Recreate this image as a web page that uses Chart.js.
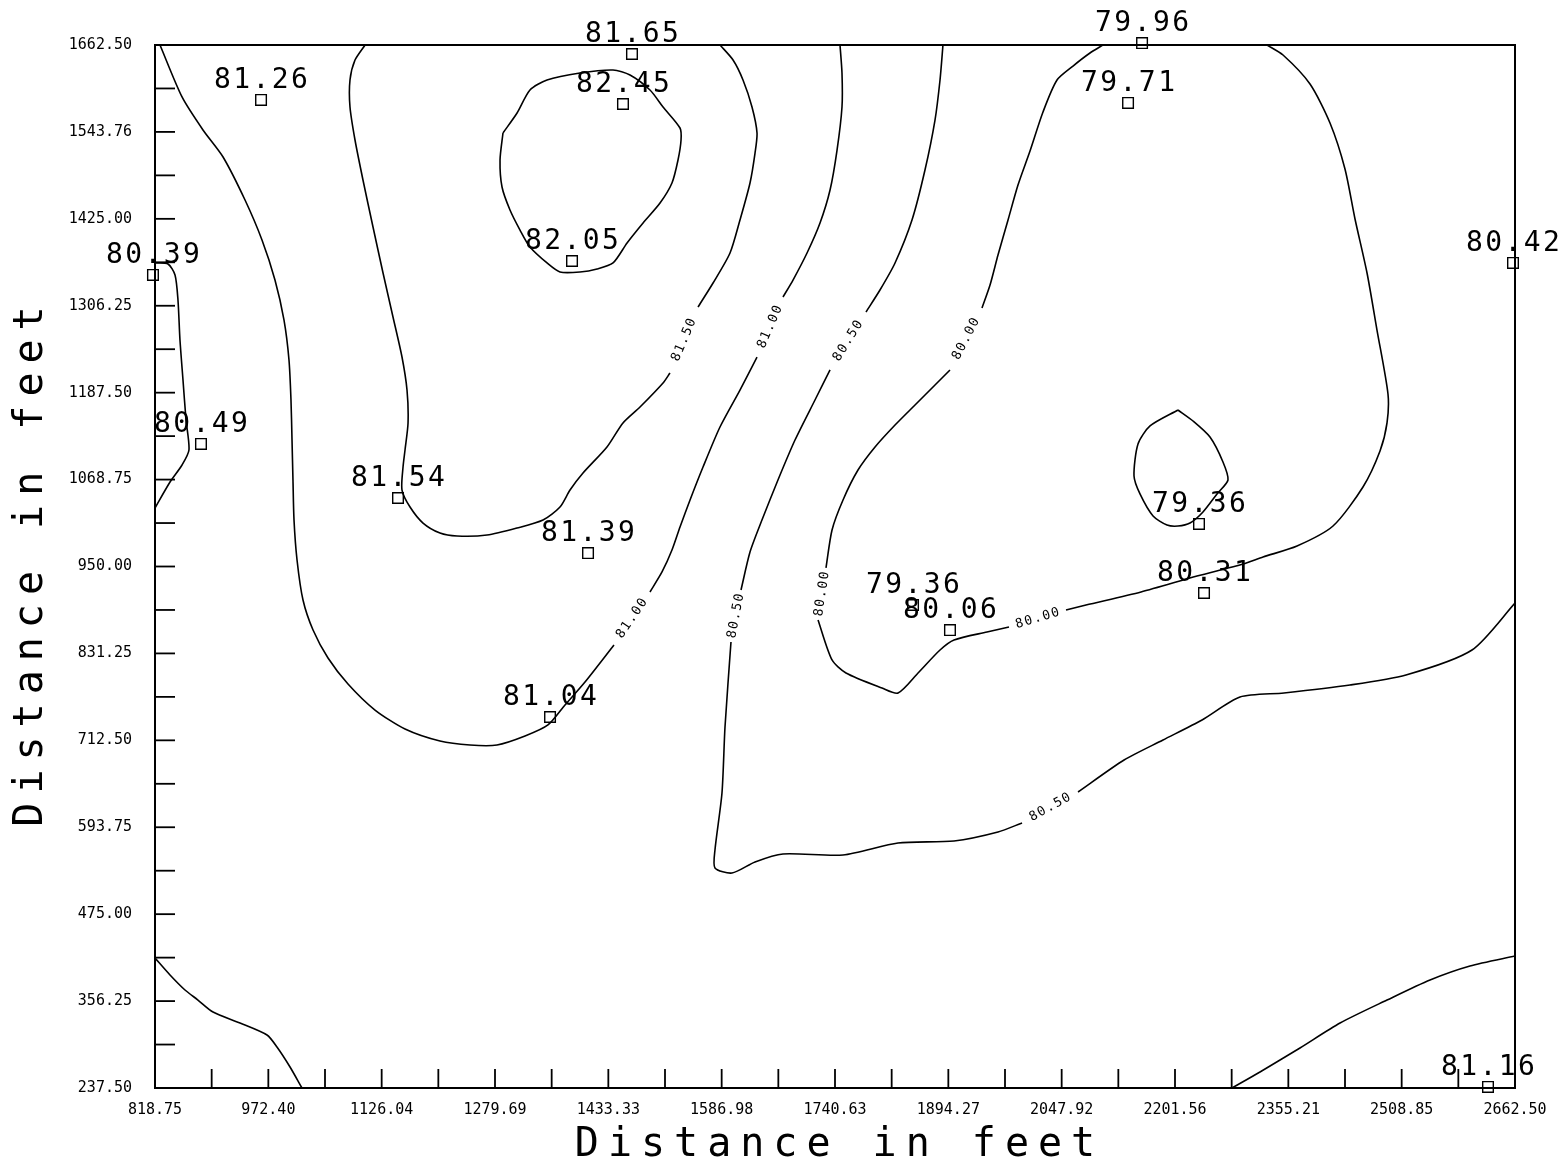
<!DOCTYPE html>
<html><head><meta charset="utf-8">
<script src="https://cdn.jsdelivr.net/npm/chart.js@4/dist/chart.umd.min.js"></script>
<style>html,body{margin:0;padding:0;background:#fff;}canvas{display:block;}</style>
</head><body>
<canvas id="c" width="1560" height="1173"></canvas>
<script>
// ---------- axis data ----------
const xMin = 818.75, xMax = 2662.50, yMin = 237.50, yMax = 1662.50;
const xTickLabels = ['818.75','972.40','1126.04','1279.69','1433.33','1586.98','1740.63','1894.27','2047.92','2201.56','2355.21','2508.85','2662.50'];
const yTickLabels = ['237.50','356.25','475.00','593.75','712.50','831.25','950.00','1068.75','1187.50','1306.25','1425.00','1543.76','1662.50'];
const xTitle = 'Distance in feet';
const yTitle = 'Distance in feet';

// ---------- stations ----------
const stationX = [962.5, 1465.4, 1453.2, 1384.1, 816.0, 881.1, 1148.2, 1405.8, 1354.3, 1846.4, 1896.5, 2156.9, 2137.9, 2659.8, 2234.1, 2240.9, 2625.9];
const stationY = [1587.4, 1650.2, 1581.9, 1367.4, 1348.3, 1117.4, 1043.6, 968.4, 744.4, 897.4, 863.2, 1665.2, 1583.3, 1364.7, 1008.1, 913.8, 238.9];
const stationValue = [81.26, 81.65, 82.45, 82.05, 80.39, 80.49, 81.54, 81.39, 81.04, 79.36, 80.06, 79.96, 79.71, 80.42, 79.36, 80.31, 81.16];

// ---------- contour lines (segments split where the level label sits) ----------
const c810 = [
 [[825.5,1662.5],[855.4,1591.5],[883.8,1546.4],[911.0,1509.5],[940.8,1450.7],[963.8,1396.1],[981.4,1341.4],[993.6,1286.8],[1000.4,1232.1],[1003.1,1177.5],[1004.5,1122.8],[1005.8,1068.2],[1007.2,1013.5],[1011.3,958.9],[1019.4,904.2],[1033.0,863.2],[1053.3,825.0],[1080.4,789.5],[1117.0,753.9],[1157.7,728.0],[1205.1,711.6],[1245.8,706.1],[1282.4,706.1],[1320.4,718.4],[1351.5,733.5],[1374.6,760.8],[1401.7,792.2],[1441.0,842.8]],
 [[1489.8,915.2],[1506.1,942.5],[1519.6,972.5],[1530.5,1004.0],[1544.1,1040.9],[1561.7,1085.9],[1584.7,1140.6],[1611.8,1191.1],[1634.9,1236.2]],
 [[1670.1,1318.2],[1683.7,1341.4],[1702.7,1378.3],[1720.3,1419.3],[1733.9,1464.4],[1743.4,1519.0],[1750.1,1577.8],[1750.1,1624.2],[1747.4,1662.5]]
];
const c815 = [
 [[1103.5,1662.5],[1089.9,1642.0],[1083.1,1614.7],[1083.1,1577.8],[1089.9,1532.7],[1100.7,1478.1],[1114.3,1413.8],[1127.9,1351.0],[1141.4,1290.9],[1153.6,1236.2],[1160.4,1191.1],[1161.8,1146.1],[1157.7,1109.2],[1155.0,1085.9],[1153.6,1054.5],[1164.5,1031.3],[1182.1,1009.4],[1205.1,995.8],[1228.2,991.7],[1268.9,993.0],[1309.6,1002.6],[1344.8,1013.5],[1367.8,1031.3],[1381.4,1054.5],[1399.0,1077.7],[1431.5,1113.3],[1453.2,1146.1],[1476.3,1167.9],[1507.5,1200.7],[1516.9,1214.4]],
 [[1554.9,1304.5],[1575.3,1337.3],[1598.3,1378.3],[1611.8,1423.4],[1625.4,1474.0],[1632.2,1514.9],[1634.9,1542.3],[1628.1,1577.8],[1615.9,1614.7],[1602.4,1642.0],[1584.7,1662.5]]
];
const c820 = [
 [[1290.5,1542.3],[1309.6,1569.6],[1327.1,1601.0],[1350.2,1614.7],[1394.9,1624.2],[1439.7,1628.3],[1462.7,1621.5],[1489.8,1601.0],[1507.5,1577.8],[1530.5,1549.1],[1531.9,1532.7],[1527.8,1505.4],[1519.6,1474.0],[1503.4,1446.6],[1480.4,1419.3],[1458.7,1392.0],[1439.7,1364.7],[1418.0,1356.5],[1394.9,1352.4],[1367.8,1352.4],[1350.2,1364.7],[1327.1,1386.5],[1313.6,1409.7],[1300.0,1437.1],[1289.2,1468.5],[1286.5,1505.4],[1290.5,1542.3]]
];
const c805w = [
 [[818.75,1364.7],[836.4,1363.3],[845.9,1348.3],[849.9,1314.1],[852.6,1259.4],[856.7,1204.8],[860.8,1150.2],[864.8,1109.2],[855.4,1088.7],[839.1,1065.4],[818.75,1029.9]]
];
const c805 = [
 [[1887.0,1662.5],[1883.0,1614.7],[1876.2,1560.0],[1862.6,1491.7],[1845.0,1423.4],[1822.0,1364.7],[1801.6,1327.8],[1782.6,1297.7]],
 [[1733.9,1218.5],[1713.5,1177.5],[1686.4,1122.8],[1663.3,1068.2],[1641.6,1013.5],[1625.4,969.8],[1613.2,917.9]],
 [[1599.6,846.8],[1591.5,730.7],[1587.4,640.5],[1577.9,562.7],[1577.9,538.1],[1601.0,531.2],[1632.2,546.3],[1670.1,557.2],[1751.5,555.8],[1826.1,572.2],[1902.0,575.0],[1961.6,587.3],[1994.2,599.6]],
 [[2070.1,641.9],[2132.5,685.6],[2185.3,713.0],[2238.2,740.3],[2289.7,771.7],[2349.3,777.2],[2438.8,788.1],[2514.7,801.8],[2604.2,835.9],[2662.5,900.1]]
];
const c800 = [
 [[2103.9,1662.5],[2086.3,1651.6],[2063.3,1633.8],[2041.6,1614.7],[2022.6,1571.0],[2005.0,1517.7],[1988.7,1471.2],[1975.2,1423.4],[1961.6,1375.6],[1950.8,1334.6],[1939.9,1303.2]],
 [[1896.5,1218.5],[1876.2,1198.0],[1849.1,1170.7],[1822.0,1143.3],[1794.9,1113.3],[1771.8,1081.8],[1751.5,1040.9],[1736.6,999.9],[1728.4,948.0]],
 [[1717.6,876.9],[1736.6,822.3],[1755.5,804.5],[1804.3,784.0],[1826.1,777.2],[1853.2,804.5],[1883.0,835.9],[1902.0,849.6],[1946.7,860.5],[1976.5,867.3]],
 [[2053.8,890.6],[2080.9,897.4],[2155.5,915.2],[2231.4,937.0],[2293.8,953.4],[2320.9,963.0],[2367.0,978.0],[2415.8,1005.3],[2456.4,1058.6],[2479.5,1107.8],[2489.0,1146.1],[2490.3,1185.7],[2475.4,1273.1],[2461.9,1351.0],[2445.6,1424.8],[2432.0,1493.1],[2411.7,1555.9],[2384.6,1609.2],[2348.0,1648.8],[2326.3,1662.5]]
];
const c795 = [
 [[2205.6,1163.8],[2167.7,1142.0],[2151.4,1117.4],[2146.0,1073.6],[2154.1,1049.1],[2171.8,1019.0],[2190.7,1006.7],[2205.6,1005.3],[2221.9,1009.4],[2239.5,1024.5],[2258.5,1049.1],[2273.4,1068.2],[2266.6,1092.8],[2249.0,1126.9],[2226.0,1148.8],[2205.6,1163.8]]
];
const c810bl = [
 [[818.75,415.1],[839.1,391.9],[859.4,371.4],[877.0,357.7],[897.4,341.3],[934.0,326.3],[970.6,309.9],[984.1,293.5],[1001.8,266.2],[1018.0,237.5]]
];
const c810br = [
 [[2278.8,237.5],[2316.8,259.4],[2371.0,292.2],[2425.3,326.3],[2489.0,357.7],[2547.3,385.1],[2601.5,404.2],[2662.5,417.8]]
];
const contourLines  = [c810, c815, c820, c805w, c805, c800, c795, c810bl, c810br];
const contourLevels = [81.00, 81.50, 82.00, 80.50, 80.50, 80.00, 79.50, 81.00, 81.00];

// ---------- build datasets ----------
const datasets = [];
contourLines.forEach((segs) => {
  segs.forEach((seg) => {
    datasets.push({
      data: seg.map(p => ({x: p[0], y: p[1]})),
      showLine: true, pointRadius: 0, pointHoverRadius: 0,
      borderColor: '#000', borderWidth: 1.6, tension: 0.25, fill: false
    });
  });
});
datasets.push({
  data: stationX.map((x, i) => ({x: x, y: stationY[i]})),
  pointStyle: 'rect', pointRadius: 7.5, pointBorderWidth: 1.4,
  pointBorderColor: '#000', pointBackgroundColor: 'rgba(0,0,0,0)',
  showLine: false, clip: false
});

const MONO = '"DejaVu Sans Mono", "Liberation Mono", monospace';

const evenTicks = (n, lo, hi) => { const a = []; for (let k = 0; k <= n; k++) a.push(lo + k * (hi - lo) / n); return a; };

const decorPlugin = {
  id: 'decor',
  afterDatasetsDraw(chart) {
    const ctx = chart.ctx, a = chart.chartArea, xs = chart.scales.x, ys = chart.scales.y;
    ctx.save();
    // frame
    ctx.strokeStyle = '#000'; ctx.lineWidth = 2;
    ctx.strokeRect(a.left, a.top, a.right - a.left, a.bottom - a.top);
    // inward tick marks
    ctx.lineWidth = 1.8;
    xs.ticks.forEach(t => { const p = xs.getPixelForValue(t.value); ctx.beginPath(); ctx.moveTo(p, a.bottom); ctx.lineTo(p, a.bottom - 19); ctx.stroke(); });
    ys.ticks.forEach(t => { const p = ys.getPixelForValue(t.value); ctx.beginPath(); ctx.moveTo(a.left, p); ctx.lineTo(a.left + 20, p); ctx.stroke(); });
    // contour level labels placed in the gaps
    ctx.fillStyle = '#000'; ctx.font = '13px ' + MONO; ctx.textAlign = 'center'; ctx.textBaseline = 'middle';
    const cls = 1.5; ctx.letterSpacing = cls + 'px';
    contourLines.forEach((segs, ci) => {
      for (let i = 0; i < segs.length - 1; i++) {
        const p = segs[i][segs[i].length - 1], q = segs[i + 1][0];
        const x1 = xs.getPixelForValue(p[0]), y1 = ys.getPixelForValue(p[1]);
        const x2 = xs.getPixelForValue(q[0]), y2 = ys.getPixelForValue(q[1]);
        let ang = Math.atan2(y2 - y1, x2 - x1);
        if (ang >= Math.PI / 2) ang -= Math.PI;
        if (ang < -Math.PI / 2) ang += Math.PI;
        ctx.save(); ctx.translate((x1 + x2) / 2, (y1 + y2) / 2); ctx.rotate(ang);
        ctx.fillText(contourLevels[ci].toFixed(2), cls / 2, 0); ctx.restore();
      }
    });
    // station value labels
    const sls = 2.4; ctx.letterSpacing = sls + 'px';
    ctx.font = '28px ' + MONO; ctx.textAlign = 'center'; ctx.textBaseline = 'alphabetic';
    stationValue.forEach((v, i) => {
      const px = xs.getPixelForValue(stationX[i]), py = ys.getPixelForValue(stationY[i]);
      ctx.fillText(v.toFixed(2), px + sls / 2, py - 12);
    });
    ctx.restore();
  },
  afterDraw(chart) {
    const ctx = chart.ctx, a = chart.chartArea;
    ctx.save();
    ctx.fillStyle = '#000'; ctx.font = '40px ' + MONO; ctx.textAlign = 'center'; ctx.textBaseline = 'middle';
    const ls = 9; ctx.letterSpacing = ls + 'px';
    ctx.fillText(xTitle, (a.left + a.right) / 2 + ls / 2, chart.height - 27);
    ctx.translate(32, (a.top + a.bottom) / 2); ctx.rotate(-Math.PI / 2);
    ctx.fillText(yTitle, ls / 2, 0);
    ctx.restore();
  }
};

new Chart(document.getElementById('c'), {
  type: 'scatter',
  data: { datasets: datasets },
  options: {
    responsive: false, animation: false, devicePixelRatio: 1,
    layout: { padding: { top: 45, right: 45, left: 0, bottom: 0 } },
    plugins: { legend: { display: false }, tooltip: { enabled: false } },
    scales: {
      x: {
        type: 'linear', min: xMin, max: xMax,
        afterBuildTicks: s => { s.ticks = evenTicks(24, xMin, xMax).map(v => ({value: v})); },
        afterFit: s => { s.height = 85; },
        grid: { display: false, drawTicks: false }, border: { display: false },
        ticks: { autoSkip: false, maxRotation: 0, padding: 13, color: '#000', font: { family: MONO, size: 15 },
                 callback: (v, i) => (i % 2 === 0 ? xTickLabels[i / 2] : '') },
        title: { display: false, text: xTitle }
      },
      y: {
        type: 'linear', min: yMin, max: yMax,
        afterBuildTicks: s => { s.ticks = evenTicks(24, yMin, yMax).map(v => ({value: v})); },
        afterFit: s => { s.width = 155; },
        grid: { display: false, drawTicks: false }, border: { display: false },
        ticks: { autoSkip: false, padding: 23, color: '#000', font: { family: MONO, size: 15 },
                 callback: (v, i) => (i % 2 === 0 ? yTickLabels[i / 2] : '') },
        title: { display: false, text: yTitle }
      }
    }
  },
  plugins: [decorPlugin]
});
</script>
</body></html>
